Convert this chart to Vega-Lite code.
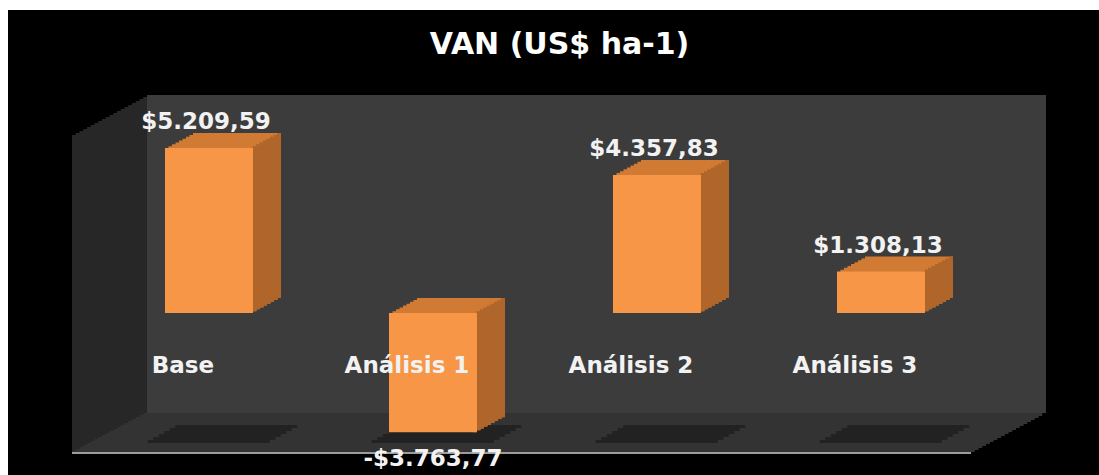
{
  "$schema": "https://vega.github.io/schema/vega-lite/v6.json",
  "width": 1091,
  "height": 465,
  "autosize": {"type": "none"},
  "padding": {"left": 8, "top": 10, "right": 0, "bottom": 0},
  "background": "white",
  "view": {"fill": "#000000", "stroke": null},
  "title": {"text": "VAN (US$ ha-1)", "font": "DejaVu Sans", "fontWeight": "bold", "fontSize": 30, "color": "#ffffff", "anchor": "middle", "baseline": "alphabetic", "offset": -74, "dx": 6},
  "config": {
    "locale": {"number": {"decimal": ",", "thousands": ".", "grouping": [3], "currency": ["$", ""], "minus": "-"}}
  },
  "data": {"values": [
    {"Escenario": "Base", "VAN": 5209.59},
    {"Escenario": "Análisis 1", "VAN": -3763.77},
    {"Escenario": "Análisis 2", "VAN": 4357.83},
    {"Escenario": "Análisis 3", "VAN": 1308.13}
  ]},
  "encoding": {
    "x": {"field": "Escenario", "type": "nominal", "sort": null, "axis": null,
          "scale": {"type": "band", "domain": ["Base", "Análisis 1", "Análisis 2", "Análisis 3"], "paddingInner": 0.6071, "paddingOuter": 0.7388, "align": 0.4743}},
    "y": {"field": "VAN", "type": "quantitative", "axis": null,
          "scale": {"domain": [-5115, 9567], "nice": false, "zero": false}}
  },
  "layer": [
    {"transform": [{"filter": "datum.Escenario == 'Base'"}], "mark": {"type": "bar", "color": "#272727", "width": 899, "xOffset": -64.25, "yOffset": 2, "y2Offset": 2}, "encoding": {"x": {"datum": "Análisis 2"}, "y": {"datum": 6883, "type": "quantitative"}, "y2": {"datum": -3157}}},
    {"transform": [{"filter": "datum.Escenario == 'Base'"}], "mark": {"type": "bar", "color": "#272727", "width": 899, "xOffset": -68, "yOffset": 4, "y2Offset": 4}, "encoding": {"x": {"datum": "Análisis 2"}, "y": {"datum": 6883, "type": "quantitative"}, "y2": {"datum": -3157}}},
    {"transform": [{"filter": "datum.Escenario == 'Base'"}], "mark": {"type": "bar", "color": "#272727", "width": 899, "xOffset": -71.75, "yOffset": 6, "y2Offset": 6}, "encoding": {"x": {"datum": "Análisis 2"}, "y": {"datum": 6883, "type": "quantitative"}, "y2": {"datum": -3157}}},
    {"transform": [{"filter": "datum.Escenario == 'Base'"}], "mark": {"type": "bar", "color": "#272727", "width": 899, "xOffset": -75.5, "yOffset": 8, "y2Offset": 8}, "encoding": {"x": {"datum": "Análisis 2"}, "y": {"datum": 6883, "type": "quantitative"}, "y2": {"datum": -3157}}},
    {"transform": [{"filter": "datum.Escenario == 'Base'"}], "mark": {"type": "bar", "color": "#272727", "width": 899, "xOffset": -79.25, "yOffset": 10, "y2Offset": 10}, "encoding": {"x": {"datum": "Análisis 2"}, "y": {"datum": 6883, "type": "quantitative"}, "y2": {"datum": -3157}}},
    {"transform": [{"filter": "datum.Escenario == 'Base'"}], "mark": {"type": "bar", "color": "#272727", "width": 899, "xOffset": -83, "yOffset": 12, "y2Offset": 12}, "encoding": {"x": {"datum": "Análisis 2"}, "y": {"datum": 6883, "type": "quantitative"}, "y2": {"datum": -3157}}},
    {"transform": [{"filter": "datum.Escenario == 'Base'"}], "mark": {"type": "bar", "color": "#272727", "width": 899, "xOffset": -86.75, "yOffset": 14, "y2Offset": 14}, "encoding": {"x": {"datum": "Análisis 2"}, "y": {"datum": 6883, "type": "quantitative"}, "y2": {"datum": -3157}}},
    {"transform": [{"filter": "datum.Escenario == 'Base'"}], "mark": {"type": "bar", "color": "#272727", "width": 899, "xOffset": -90.5, "yOffset": 16, "y2Offset": 16}, "encoding": {"x": {"datum": "Análisis 2"}, "y": {"datum": 6883, "type": "quantitative"}, "y2": {"datum": -3157}}},
    {"transform": [{"filter": "datum.Escenario == 'Base'"}], "mark": {"type": "bar", "color": "#272727", "width": 899, "xOffset": -94.25, "yOffset": 18, "y2Offset": 18}, "encoding": {"x": {"datum": "Análisis 2"}, "y": {"datum": 6883, "type": "quantitative"}, "y2": {"datum": -3157}}},
    {"transform": [{"filter": "datum.Escenario == 'Base'"}], "mark": {"type": "bar", "color": "#272727", "width": 899, "xOffset": -98, "yOffset": 20, "y2Offset": 20}, "encoding": {"x": {"datum": "Análisis 2"}, "y": {"datum": 6883, "type": "quantitative"}, "y2": {"datum": -3157}}},
    {"transform": [{"filter": "datum.Escenario == 'Base'"}], "mark": {"type": "bar", "color": "#272727", "width": 899, "xOffset": -101.75, "yOffset": 22, "y2Offset": 22}, "encoding": {"x": {"datum": "Análisis 2"}, "y": {"datum": 6883, "type": "quantitative"}, "y2": {"datum": -3157}}},
    {"transform": [{"filter": "datum.Escenario == 'Base'"}], "mark": {"type": "bar", "color": "#272727", "width": 899, "xOffset": -105.5, "yOffset": 24, "y2Offset": 24}, "encoding": {"x": {"datum": "Análisis 2"}, "y": {"datum": 6883, "type": "quantitative"}, "y2": {"datum": -3157}}},
    {"transform": [{"filter": "datum.Escenario == 'Base'"}], "mark": {"type": "bar", "color": "#272727", "width": 899, "xOffset": -109.25, "yOffset": 26, "y2Offset": 26}, "encoding": {"x": {"datum": "Análisis 2"}, "y": {"datum": 6883, "type": "quantitative"}, "y2": {"datum": -3157}}},
    {"transform": [{"filter": "datum.Escenario == 'Base'"}], "mark": {"type": "bar", "color": "#272727", "width": 899, "xOffset": -113, "yOffset": 28, "y2Offset": 28}, "encoding": {"x": {"datum": "Análisis 2"}, "y": {"datum": 6883, "type": "quantitative"}, "y2": {"datum": -3157}}},
    {"transform": [{"filter": "datum.Escenario == 'Base'"}], "mark": {"type": "bar", "color": "#272727", "width": 899, "xOffset": -116.75, "yOffset": 30, "y2Offset": 30}, "encoding": {"x": {"datum": "Análisis 2"}, "y": {"datum": 6883, "type": "quantitative"}, "y2": {"datum": -3157}}},
    {"transform": [{"filter": "datum.Escenario == 'Base'"}], "mark": {"type": "bar", "color": "#272727", "width": 899, "xOffset": -120.5, "yOffset": 32, "y2Offset": 32}, "encoding": {"x": {"datum": "Análisis 2"}, "y": {"datum": 6883, "type": "quantitative"}, "y2": {"datum": -3157}}},
    {"transform": [{"filter": "datum.Escenario == 'Base'"}], "mark": {"type": "bar", "color": "#272727", "width": 899, "xOffset": -124.25, "yOffset": 34, "y2Offset": 34}, "encoding": {"x": {"datum": "Análisis 2"}, "y": {"datum": 6883, "type": "quantitative"}, "y2": {"datum": -3157}}},
    {"transform": [{"filter": "datum.Escenario == 'Base'"}], "mark": {"type": "bar", "color": "#272727", "width": 899, "xOffset": -128, "yOffset": 36, "y2Offset": 36}, "encoding": {"x": {"datum": "Análisis 2"}, "y": {"datum": 6883, "type": "quantitative"}, "y2": {"datum": -3157}}},
    {"transform": [{"filter": "datum.Escenario == 'Base'"}], "mark": {"type": "bar", "color": "#272727", "width": 899, "xOffset": -131.75, "yOffset": 38, "y2Offset": 38}, "encoding": {"x": {"datum": "Análisis 2"}, "y": {"datum": 6883, "type": "quantitative"}, "y2": {"datum": -3157}}},
    {"transform": [{"filter": "datum.Escenario == 'Base'"}], "mark": {"type": "bar", "color": "#272727", "width": 899, "xOffset": -135.5, "yOffset": 40, "y2Offset": 40}, "encoding": {"x": {"datum": "Análisis 2"}, "y": {"datum": 6883, "type": "quantitative"}, "y2": {"datum": -3157}}},
    {"transform": [{"filter": "datum.Escenario == 'Base'"}], "mark": {"type": "bar", "color": "#333333", "width": 899, "xOffset": -64.25, "yOffset": 0, "y2Offset": 3}, "encoding": {"x": {"datum": "Análisis 2"}, "y": {"datum": -3157, "type": "quantitative"}, "y2": {"datum": -3157}}},
    {"transform": [{"filter": "datum.Escenario == 'Base'"}], "mark": {"type": "bar", "color": "#333333", "width": 899, "xOffset": -68, "yOffset": 2, "y2Offset": 5}, "encoding": {"x": {"datum": "Análisis 2"}, "y": {"datum": -3157, "type": "quantitative"}, "y2": {"datum": -3157}}},
    {"transform": [{"filter": "datum.Escenario == 'Base'"}], "mark": {"type": "bar", "color": "#333333", "width": 899, "xOffset": -71.75, "yOffset": 4, "y2Offset": 7}, "encoding": {"x": {"datum": "Análisis 2"}, "y": {"datum": -3157, "type": "quantitative"}, "y2": {"datum": -3157}}},
    {"transform": [{"filter": "datum.Escenario == 'Base'"}], "mark": {"type": "bar", "color": "#333333", "width": 899, "xOffset": -75.5, "yOffset": 6, "y2Offset": 9}, "encoding": {"x": {"datum": "Análisis 2"}, "y": {"datum": -3157, "type": "quantitative"}, "y2": {"datum": -3157}}},
    {"transform": [{"filter": "datum.Escenario == 'Base'"}], "mark": {"type": "bar", "color": "#333333", "width": 899, "xOffset": -79.25, "yOffset": 8, "y2Offset": 11}, "encoding": {"x": {"datum": "Análisis 2"}, "y": {"datum": -3157, "type": "quantitative"}, "y2": {"datum": -3157}}},
    {"transform": [{"filter": "datum.Escenario == 'Base'"}], "mark": {"type": "bar", "color": "#333333", "width": 899, "xOffset": -83, "yOffset": 10, "y2Offset": 13}, "encoding": {"x": {"datum": "Análisis 2"}, "y": {"datum": -3157, "type": "quantitative"}, "y2": {"datum": -3157}}},
    {"transform": [{"filter": "datum.Escenario == 'Base'"}], "mark": {"type": "bar", "color": "#333333", "width": 899, "xOffset": -86.75, "yOffset": 12, "y2Offset": 15}, "encoding": {"x": {"datum": "Análisis 2"}, "y": {"datum": -3157, "type": "quantitative"}, "y2": {"datum": -3157}}},
    {"transform": [{"filter": "datum.Escenario == 'Base'"}], "mark": {"type": "bar", "color": "#333333", "width": 899, "xOffset": -90.5, "yOffset": 14, "y2Offset": 17}, "encoding": {"x": {"datum": "Análisis 2"}, "y": {"datum": -3157, "type": "quantitative"}, "y2": {"datum": -3157}}},
    {"transform": [{"filter": "datum.Escenario == 'Base'"}], "mark": {"type": "bar", "color": "#333333", "width": 899, "xOffset": -94.25, "yOffset": 16, "y2Offset": 19}, "encoding": {"x": {"datum": "Análisis 2"}, "y": {"datum": -3157, "type": "quantitative"}, "y2": {"datum": -3157}}},
    {"transform": [{"filter": "datum.Escenario == 'Base'"}], "mark": {"type": "bar", "color": "#333333", "width": 899, "xOffset": -98, "yOffset": 18, "y2Offset": 21}, "encoding": {"x": {"datum": "Análisis 2"}, "y": {"datum": -3157, "type": "quantitative"}, "y2": {"datum": -3157}}},
    {"transform": [{"filter": "datum.Escenario == 'Base'"}], "mark": {"type": "bar", "color": "#333333", "width": 899, "xOffset": -101.75, "yOffset": 20, "y2Offset": 23}, "encoding": {"x": {"datum": "Análisis 2"}, "y": {"datum": -3157, "type": "quantitative"}, "y2": {"datum": -3157}}},
    {"transform": [{"filter": "datum.Escenario == 'Base'"}], "mark": {"type": "bar", "color": "#333333", "width": 899, "xOffset": -105.5, "yOffset": 22, "y2Offset": 25}, "encoding": {"x": {"datum": "Análisis 2"}, "y": {"datum": -3157, "type": "quantitative"}, "y2": {"datum": -3157}}},
    {"transform": [{"filter": "datum.Escenario == 'Base'"}], "mark": {"type": "bar", "color": "#333333", "width": 899, "xOffset": -109.25, "yOffset": 24, "y2Offset": 27}, "encoding": {"x": {"datum": "Análisis 2"}, "y": {"datum": -3157, "type": "quantitative"}, "y2": {"datum": -3157}}},
    {"transform": [{"filter": "datum.Escenario == 'Base'"}], "mark": {"type": "bar", "color": "#333333", "width": 899, "xOffset": -113, "yOffset": 26, "y2Offset": 29}, "encoding": {"x": {"datum": "Análisis 2"}, "y": {"datum": -3157, "type": "quantitative"}, "y2": {"datum": -3157}}},
    {"transform": [{"filter": "datum.Escenario == 'Base'"}], "mark": {"type": "bar", "color": "#333333", "width": 899, "xOffset": -116.75, "yOffset": 28, "y2Offset": 31}, "encoding": {"x": {"datum": "Análisis 2"}, "y": {"datum": -3157, "type": "quantitative"}, "y2": {"datum": -3157}}},
    {"transform": [{"filter": "datum.Escenario == 'Base'"}], "mark": {"type": "bar", "color": "#333333", "width": 899, "xOffset": -120.5, "yOffset": 30, "y2Offset": 33}, "encoding": {"x": {"datum": "Análisis 2"}, "y": {"datum": -3157, "type": "quantitative"}, "y2": {"datum": -3157}}},
    {"transform": [{"filter": "datum.Escenario == 'Base'"}], "mark": {"type": "bar", "color": "#333333", "width": 899, "xOffset": -124.25, "yOffset": 32, "y2Offset": 35}, "encoding": {"x": {"datum": "Análisis 2"}, "y": {"datum": -3157, "type": "quantitative"}, "y2": {"datum": -3157}}},
    {"transform": [{"filter": "datum.Escenario == 'Base'"}], "mark": {"type": "bar", "color": "#333333", "width": 899, "xOffset": -128, "yOffset": 34, "y2Offset": 37}, "encoding": {"x": {"datum": "Análisis 2"}, "y": {"datum": -3157, "type": "quantitative"}, "y2": {"datum": -3157}}},
    {"transform": [{"filter": "datum.Escenario == 'Base'"}], "mark": {"type": "bar", "color": "#333333", "width": 899, "xOffset": -131.75, "yOffset": 36, "y2Offset": 39}, "encoding": {"x": {"datum": "Análisis 2"}, "y": {"datum": -3157, "type": "quantitative"}, "y2": {"datum": -3157}}},
    {"transform": [{"filter": "datum.Escenario == 'Base'"}], "mark": {"type": "bar", "color": "#333333", "width": 899, "xOffset": -135.5, "yOffset": 38, "y2Offset": 40}, "encoding": {"x": {"datum": "Análisis 2"}, "y": {"datum": -3157, "type": "quantitative"}, "y2": {"datum": -3157}}},
    {"transform": [{"filter": "datum.Escenario == 'Base'"}], "mark": {"type": "bar", "color": "#3c3c3c", "width": 899, "xOffset": -60.5}, "encoding": {"x": {"datum": "Análisis 2"}, "y": {"datum": 6883, "type": "quantitative"}, "y2": {"datum": -3157}}},
    {"transform": [{"filter": "datum.Escenario == 'Base'"}], "mark": {"type": "bar", "color": "#9c9c9c", "width": 899, "xOffset": -135.5, "yOffset": 39, "y2Offset": 41}, "encoding": {"x": {"datum": "Análisis 2"}, "y": {"datum": -3157, "type": "quantitative"}, "y2": {"datum": -3157}}},
    {"mark": {"type": "bar", "color": "#222222", "width": 122, "xOffset": 27.25, "yOffset": 0, "y2Offset": 0}, "encoding": {"y": {"datum": -3536, "type": "quantitative"}, "y2": {"datum": -3631}}},
    {"mark": {"type": "bar", "color": "#222222", "width": 122, "xOffset": 21.75, "yOffset": 3, "y2Offset": 3}, "encoding": {"y": {"datum": -3536, "type": "quantitative"}, "y2": {"datum": -3631}}},
    {"mark": {"type": "bar", "color": "#222222", "width": 122, "xOffset": 16.25, "yOffset": 6, "y2Offset": 6}, "encoding": {"y": {"datum": -3536, "type": "quantitative"}, "y2": {"datum": -3631}}},
    {"mark": {"type": "bar", "color": "#222222", "width": 122, "xOffset": 10.75, "yOffset": 9, "y2Offset": 9}, "encoding": {"y": {"datum": -3536, "type": "quantitative"}, "y2": {"datum": -3631}}},
    {"mark": {"type": "bar", "color": "#222222", "width": 122, "xOffset": 5.25, "yOffset": 12, "y2Offset": 12}, "encoding": {"y": {"datum": -3536, "type": "quantitative"}, "y2": {"datum": -3631}}},
    {"mark": {"type": "bar", "color": "#222222", "width": 122, "xOffset": -0.25, "yOffset": 15, "y2Offset": 15}, "encoding": {"y": {"datum": -3536, "type": "quantitative"}, "y2": {"datum": -3631}}},
    {"mark": {"type": "bar", "color": "#d07a33", "xOffset": 3.5, "x2Offset": 3.5, "yOffset": -1.875, "y2Offset": -1.875}, "encoding": {"y2": {"datum": 0}}},
    {"mark": {"type": "bar", "color": "#d07a33", "xOffset": 7, "x2Offset": 7, "yOffset": -3.75, "y2Offset": -3.75}, "encoding": {"y2": {"datum": 0}}},
    {"mark": {"type": "bar", "color": "#d07a33", "xOffset": 10.5, "x2Offset": 10.5, "yOffset": -5.625, "y2Offset": -5.625}, "encoding": {"y2": {"datum": 0}}},
    {"mark": {"type": "bar", "color": "#d07a33", "xOffset": 14, "x2Offset": 14, "yOffset": -7.5, "y2Offset": -7.5}, "encoding": {"y2": {"datum": 0}}},
    {"mark": {"type": "bar", "color": "#d07a33", "xOffset": 17.5, "x2Offset": 17.5, "yOffset": -9.375, "y2Offset": -9.375}, "encoding": {"y2": {"datum": 0}}},
    {"mark": {"type": "bar", "color": "#d07a33", "xOffset": 21, "x2Offset": 21, "yOffset": -11.25, "y2Offset": -11.25}, "encoding": {"y2": {"datum": 0}}},
    {"mark": {"type": "bar", "color": "#d07a33", "xOffset": 24.5, "x2Offset": 24.5, "yOffset": -13.125, "y2Offset": -13.125}, "encoding": {"y2": {"datum": 0}}},
    {"mark": {"type": "bar", "color": "#d07a33", "xOffset": 28, "x2Offset": 28, "yOffset": -15, "y2Offset": -15}, "encoding": {"y2": {"datum": 0}}},
    {"mark": {"type": "bar", "color": "#b0662a", "width": 4, "xOffset": 42, "yOffset": 0, "y2Offset": 0}, "encoding": {"y2": {"datum": 0}}},
    {"mark": {"type": "bar", "color": "#b0662a", "width": 4, "xOffset": 45.5, "yOffset": -1.875, "y2Offset": -1.875}, "encoding": {"y2": {"datum": 0}}},
    {"mark": {"type": "bar", "color": "#b0662a", "width": 4, "xOffset": 49, "yOffset": -3.75, "y2Offset": -3.75}, "encoding": {"y2": {"datum": 0}}},
    {"mark": {"type": "bar", "color": "#b0662a", "width": 4, "xOffset": 52.5, "yOffset": -5.625, "y2Offset": -5.625}, "encoding": {"y2": {"datum": 0}}},
    {"mark": {"type": "bar", "color": "#b0662a", "width": 4, "xOffset": 56, "yOffset": -7.5, "y2Offset": -7.5}, "encoding": {"y2": {"datum": 0}}},
    {"mark": {"type": "bar", "color": "#b0662a", "width": 4, "xOffset": 59.5, "yOffset": -9.375, "y2Offset": -9.375}, "encoding": {"y2": {"datum": 0}}},
    {"mark": {"type": "bar", "color": "#b0662a", "width": 4, "xOffset": 63, "yOffset": -11.25, "y2Offset": -11.25}, "encoding": {"y2": {"datum": 0}}},
    {"mark": {"type": "bar", "color": "#b0662a", "width": 4, "xOffset": 66.5, "yOffset": -13.125, "y2Offset": -13.125}, "encoding": {"y2": {"datum": 0}}},
    {"mark": {"type": "bar", "color": "#b0662a", "width": 4, "xOffset": 70, "yOffset": -15, "y2Offset": -15}, "encoding": {"y2": {"datum": 0}}},
    {"mark": {"type": "bar", "color": "#f79646"}, "encoding": {"y2": {"datum": 0}}},
    {"transform": [{"filter": "datum.VAN >= 0"}], "mark": {"type": "text", "font": "DejaVu Sans", "fontWeight": "bold", "fontSize": 23, "color": "#f2f2f2", "baseline": "alphabetic", "align": "center", "dy": -19, "dx": -3}, "encoding": {"text": {"field": "VAN", "type": "quantitative", "format": "$,.2f"}}},
    {"transform": [{"filter": "datum.VAN < 0"}], "mark": {"type": "text", "font": "DejaVu Sans", "fontWeight": "bold", "fontSize": 23, "color": "#f2f2f2", "baseline": "alphabetic", "align": "center", "dy": 34}, "encoding": {"text": {"field": "VAN", "type": "quantitative", "format": "$,.2f"}}},
    {"mark": {"type": "text", "font": "DejaVu Sans", "fontWeight": "bold", "fontSize": 23, "color": "#f2f2f2", "baseline": "alphabetic", "align": "center", "dx": -26}, "encoding": {"y": {"datum": -1894, "type": "quantitative"}, "text": {"field": "Escenario", "type": "nominal"}}}
  ]
}
